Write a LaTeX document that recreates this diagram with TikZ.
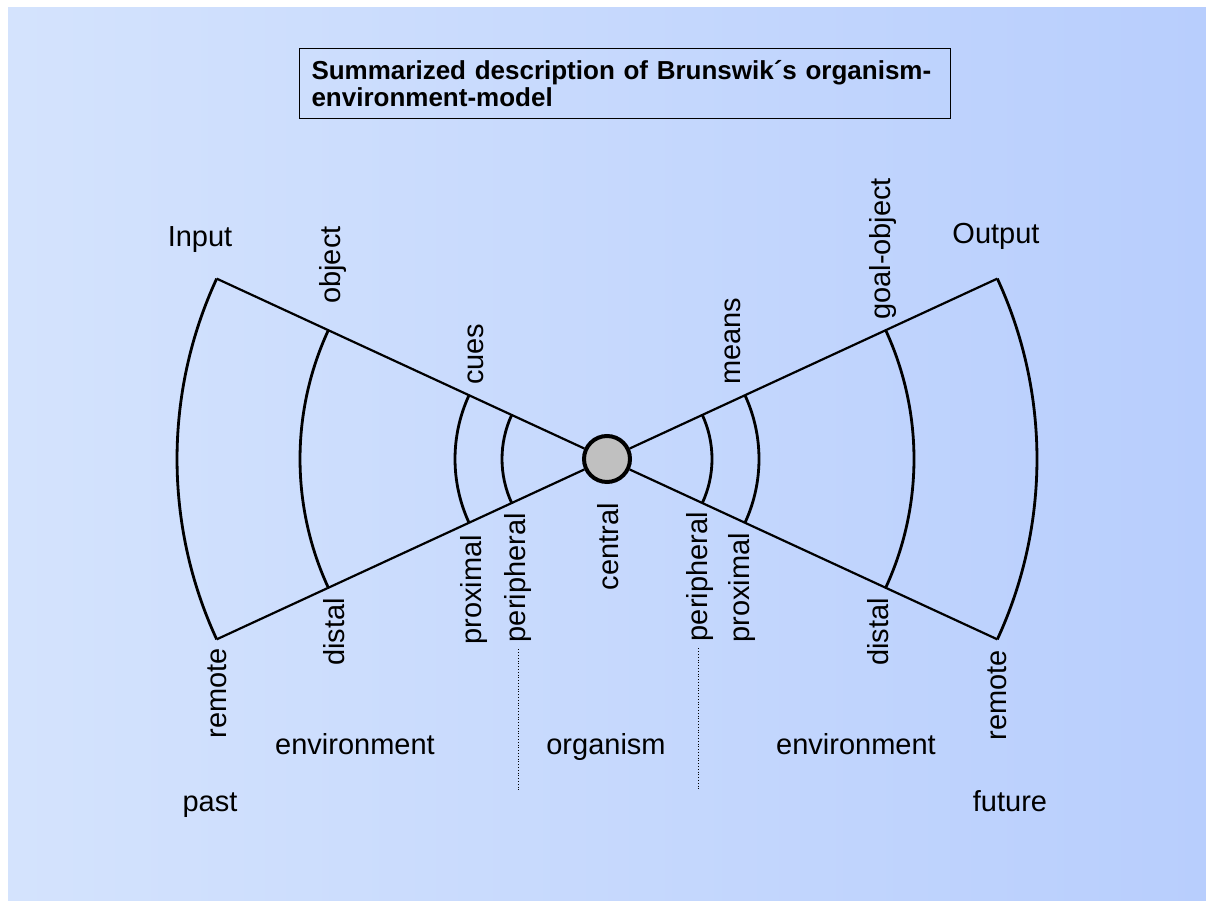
\documentclass[tikz,border=0pt]{standalone}
\usepackage{fontspec}
\setmainfont{Liberation Sans}
\definecolor{bgleft}{RGB}{212,227,253}
\definecolor{bgright}{RGB}{184,206,253}
\definecolor{corefill}{RGB}{192,192,192}
\tikzset{
  lbl/.style={inner sep=0pt, font=\fontsize{29}{34}\selectfont},
  up/.style={lbl, rotate=90, anchor=west},
  down/.style={lbl, rotate=90, anchor=east},
  flat/.style={lbl, anchor=base},
  band/.style={line width=2.8pt},
  ray/.style={line width=2.2pt},
  sep/.style={dotted, line width=0.8pt},
}
\begin{document}
\begin{tikzpicture}[x=1pt,y=1pt]
      \useasboundingbox (0,0) rectangle (1206,901);
      \shade[left color=bgleft, right color=bgright] (8,0) rectangle (1206,893);
      \node[draw, line width=1pt, anchor=north west, minimum height=70pt,
        text width=627pt, inner xsep=12pt, align=left,
        font=\bfseries\fontsize{26}{27}\selectfont] (title) at (299,853)
        {Summarized description of Brunswik´s organism-\\environment-model};
      \node[draw, circle, line width=4pt, fill=corefill, minimum size=46pt,
        inner sep=0pt] (org) at (607,442) {};
      \path (org.center)
        ++(155.2:430pt) coordinate (in)
        (org.center) ++(204.8:430pt) coordinate (past)
        (org.center) ++(24.8:430pt) coordinate (out)
        (org.center) ++(-24.8:430pt) coordinate (future);
      \begin{scope}[ray]
        \draw (in) to (org);
        \draw (past) to (org);
        \draw (out) to (org);
        \draw (future) to (org);
      \end{scope}
      \foreach \r in {105,152,307,430} {
        \draw[band] (org.center) ++(155.2:\r pt)
          arc[start angle=155.2, end angle=204.8, radius=\r pt];
        \draw[band] (org.center) ++(-24.8:\r pt)
          arc[start angle=-24.8, end angle=24.8, radius=\r pt];
      }
      \node[flat] (input) at (200,654) {Input};
      \node[flat] (output) at (996,657) {Output};
      \node[up] (object) at (333,597) {object};
      \node[up] (cues) at (476,516) {cues};
      \node[up] (means) at (733,516) {means};
      \node[up] (goal) at (883,581) {goal-object};
      \node[down] (remL) at (217,253) {remote};
      \node[down] (distL) at (334,303) {distal};
      \node[down] (proxL) at (474,366) {proximal};
      \node[down] (perL) at (518,388) {peripheral};
      \node[down] (central) at (608,398) {central};
      \node[down] (perR) at (700,389) {peripheral};
      \node[down] (proxR) at (742,368) {proximal};
      \node[down] (distR) at (878,303) {distal};
      \node[down] (remR) at (997,251) {remote};
      \coordinate (sepL) at (518,111);
      \coordinate (sepR) at (698,111);
      \draw[sep] ([yshift=-7pt]perL.west) -- (sepL);
      \draw[sep] ([xshift=-2pt,yshift=-7pt]perR.west) -- (sepR);
      \node[flat] (envL) at (355,146) {environment};
      \node[flat] (organism) at (606,146) {organism};
      \node[flat] (envR) at (856,146) {environment};
      \node[flat] (pastlbl) at (210,89) {past};
      \node[flat] (futurelbl) at (1010,89) {future};
    \end{tikzpicture}
\end{document}
